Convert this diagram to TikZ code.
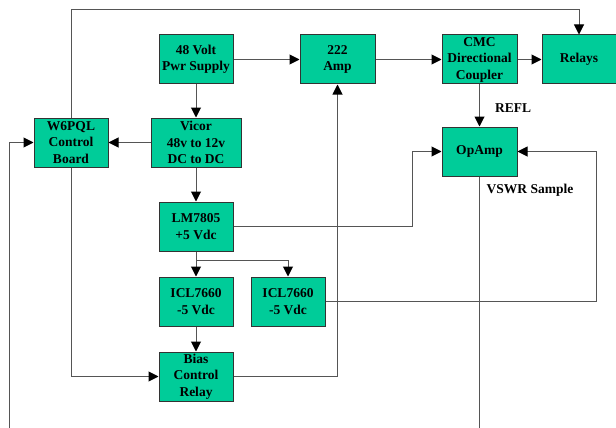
\documentclass[tikz,border=0pt]{standalone}
\usepackage{fontspec}
\setmainfont{Liberation Serif}
\usetikzlibrary{arrows.meta}
\definecolor{boxgreen}{RGB}{0,204,153}
\definecolor{linegray}{RGB}{85,85,85}
\begin{document}
\begin{tikzpicture}[x=1pt,y=-1pt,
  blk/.style={draw=black!80, fill=boxgreen, line width=1pt, minimum width=74pt, minimum height=49pt, inner sep=0pt, align=center, font=\fontsize{13.5}{16.5}\selectfont\bfseries},
  conn/.style={draw=linegray, line width=1pt},
  arr/.style={conn, -{Triangle[length=10pt,width=10pt,color=black]}},
  lbl/.style={font=\fontsize{13.5}{16.5}\selectfont\bfseries}]
\useasboundingbox (0,0) rectangle (616,428);
% boxes
\node[blk] (ps48) at (196,59.5) {48 Volt\\Pwr Supply};
\node[blk, minimum width=75pt] (amp) at (337.5,59.5) {222\\Amp};
\node[blk, minimum width=75pt] (cmc) at (479.5,59.5) {CMC\\Directional\\Coupler};
\node[blk] (relays) at (579,59.5) {Relays};
\node[blk, minimum width=90pt] (vicor) at (196,142.5) {Vicor\\48v to 12v\\DC to DC};
\node[blk] (w6) at (71,142.5) {W6PQL\\Control\\Board};
\node[blk, minimum width=75pt] (opamp) at (479.5,151.5) {OpAmp};
\node[blk] (lm) at (196,226.5) {LM7805\\+5 Vdc};
\node[blk] (icla) at (196,301.5) {ICL7660\\-5 Vdc};
\node[blk] (iclb) at (288,301.5) {ICL7660\\-5 Vdc};
\node[blk] (bias) at (196,376.5) {Bias\\Control\\Relay};
% labels
\node[lbl] (refl) at (513,108) {REFL};
\node[lbl] (vswr) at (530,190.5) {VSWR Sample};
% helper coordinates
\coordinate (top) at (0,10);
\coordinate (leftbot) at (9,428);
\coordinate (opbot) at (479.5,428);
\coordinate (split) at (196,260);
\coordinate (lmx) at (412,0);
\coordinate (iclx) at (596,0);
% connectors
\draw[arr] (w6.north) -- (w6.north |- top) -| (relays.north);
\draw[arr] (ps48.east) -- (amp.west);
\draw[arr] (amp.east) -- (cmc.west);
\draw[arr] (cmc.east) -- (relays.west);
\draw[arr] (ps48.south) -- (vicor.north);
\draw[arr] (vicor.west) -- (w6.east);
\draw[arr] (vicor.south) -- (lm.north);
\draw[arr] (leftbot) |- (w6.west);
\draw[arr] (w6.south) |- (bias.west);
\draw[conn] (lm.south) -- (split);
\draw[arr] (split) -- (icla.north);
\draw[arr] (split) -| (iclb.north);
\draw[arr] (lm.east) -| (lmx |- lm.east) |- (opamp.west);
\draw[arr] (iclb.east) -| (iclx |- iclb.east) |- (opamp.east);
\draw[arr] (icla.south) -- (bias.north);
\draw[arr] (bias.east) -| (amp.south);
\draw[arr] (cmc.south) -- (opamp.north);
\draw[conn] (opamp.south) -- (opbot);
\end{tikzpicture}
\end{document}
